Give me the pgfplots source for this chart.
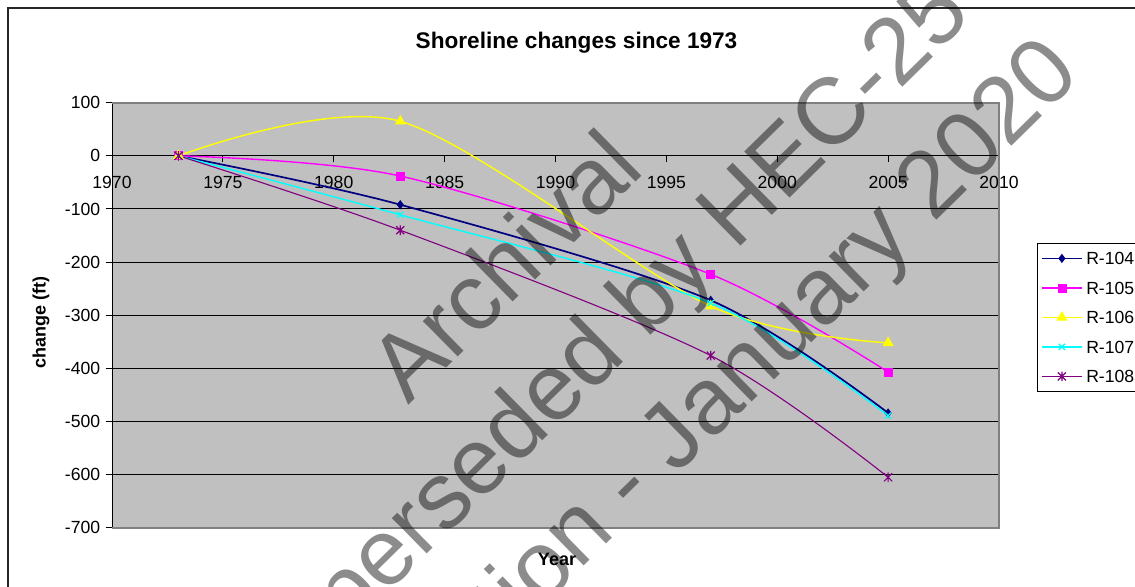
\documentclass[border=0pt]{standalone}
\usepackage{pgfplots}
\pgfplotsset{compat=1.18}
\usepackage{fontspec}
\setmainfont{Liberation Sans}
\definecolor{bgray}{HTML}{C0C0C0}
\definecolor{fgray}{HTML}{808080}
\definecolor{cnavy}{HTML}{000080}
\definecolor{cmag}{HTML}{FF00FF}
\definecolor{cyel}{HTML}{FFFF00}
\definecolor{ccyan}{HTML}{00FFFF}
\definecolor{cpurp}{HTML}{800080}
\pgfdeclareplotmark{xstar}{%
  \pgfpathmoveto{\pgfqpoint{-\pgfplotmarksize}{-\pgfplotmarksize}}%
  \pgfpathlineto{\pgfqpoint{\pgfplotmarksize}{\pgfplotmarksize}}%
  \pgfpathmoveto{\pgfqpoint{-\pgfplotmarksize}{\pgfplotmarksize}}%
  \pgfpathlineto{\pgfqpoint{\pgfplotmarksize}{-\pgfplotmarksize}}%
  \pgfpathmoveto{\pgfqpoint{0pt}{-1.2\pgfplotmarksize}}%
  \pgfpathlineto{\pgfqpoint{0pt}{1.2\pgfplotmarksize}}%
  \pgfusepathqstroke}
\begin{document}
\begin{tikzpicture}
\useasboundingbox (0pt,0pt) rectangle (567.5pt,293pt);
\clip (0pt,0pt) rectangle (567.5pt,293pt);
\fill[white] (0pt,0pt) rectangle (567.5pt,293pt);
\draw[line width=0.8pt, black!85] (4pt,-10pt) -- (4pt,289pt) -- (580pt,289pt);
\begin{axis}[
  at={(56pt,29.15pt)}, anchor=south west,
  scale only axis, width=443.5pt, height=212.5pt,
  xmin=1970, xmax=2010, ymin=-700, ymax=100,
  clip=false,
  axis x line=middle, axis y line=left,
  axis line style={-, black, line width=0.5pt},
  hide obscured x ticks=false, hide obscured y ticks=false,
  xtick={1970,1975,1980,1985,1990,1995,2000,2005,2010},
  xticklabels={1970,1975,1980,1985,1990,1995,2000,2005,2010},
  ytick={-700,-600,-500,-400,-300,-200,-100,0,100},
  yticklabels={-700,-600,-500,-400,-300,-200,-100,0,100},
  ymajorgrids, grid style={black, line width=0.5pt},
  tick align=outside, major tick length=3.2pt,
  tick style={black, line width=0.5pt},
  ticklabel style={font=\fontsize{8.8}{10}\selectfont},
  xticklabel style={anchor=north, inner sep=0pt, yshift=-7pt},
  yticklabel style={anchor=east, inner sep=0pt, xshift=-2.5pt},
  axis background/.style={fill=bgray},
  legend cell align=left,
  legend style={at={(axis description cs:1.0429,0.671)}, anchor=north west,
    draw=black, line width=0.5pt, fill=white,
    font=\fontsize{8.8}{10}\selectfont,
    inner xsep=2pt, inner ysep=4.5pt, row sep=8.35pt,
    nodes={inner xsep=2pt, inner ysep=0pt, text height=6.4pt, text depth=0pt}},
  legend image code/.code={\draw[mark repeat=2, mark phase=2, #1] plot coordinates {(0pt,0pt) (9.75pt,0pt) (19.5pt,0pt)};},
]
\addplot[cnavy, line width=0.85pt, smooth, tension=0.5, mark=diamond*, mark size=2pt, mark options={solid, line width=0.4pt}]
  coordinates {(1973,0) (1983,-92) (1997,-272) (2005,-484)};
\addlegendentry{R-104}
\addplot[cmag, line width=0.7pt, smooth, tension=0.5, mark=square*, mark size=2pt, mark options={solid, line width=0.4pt}]
  coordinates {(1973,0) (1983,-38) (1997,-223) (2005,-407)};
\addlegendentry{R-105}
\addplot[cyel, line width=0.7pt, smooth, tension=0.5, mark=triangle*, mark size=2.8pt, mark options={solid, line width=0.4pt}]
  coordinates {(1973,0) (1983,65) (1997,-283) (2005,-352)};
\addlegendentry{R-106}
\addplot[ccyan, line width=0.7pt, smooth, tension=0.5, mark=x, mark size=2.2pt, mark options={solid, line width=0.6pt}]
  coordinates {(1973,0) (1983,-111) (1997,-277) (2005,-489)};
\addlegendentry{R-107}
\addplot[cpurp, line width=0.55pt, smooth, tension=0.5, mark=xstar, mark size=2pt, mark options={solid, line width=0.6pt}]
  coordinates {(1973,0) (1983,-140) (1997,-376) (2005,-605)};
\addlegendentry{R-108}
\draw[fgray, line width=0.8pt] (rel axis cs:0,0) -- (rel axis cs:1,0) -- (rel axis cs:1,1) -- (rel axis cs:0,1);
\end{axis}
\node[anchor=base, font=\bfseries\fontsize{11.3}{13}\selectfont, inner sep=0pt] at (288.25pt,268.85pt) {Shoreline changes since 1973};
\node[font=\bfseries\fontsize{9}{10}\selectfont, inner sep=0pt] at (278.5pt,13.5pt) {Year};
\node[rotate=90, font=\bfseries\fontsize{9}{10}\selectfont, inner sep=0pt] at (20.5pt,131.75pt) {change (ft)};
\begin{scope}[every node/.style={rotate=44.5, anchor=base west, text=black, text opacity=0.45, font=\fontsize{47}{47}\selectfont, inner sep=0pt}]
\node at (204pt,90pt) {Archival};
\node at (133pt,-63.5pt) {Superseded by HEC-25 3rd};
\node at (206pt,-75pt) {Edition - January 2020};
\end{scope}
\end{tikzpicture}
\end{document}
